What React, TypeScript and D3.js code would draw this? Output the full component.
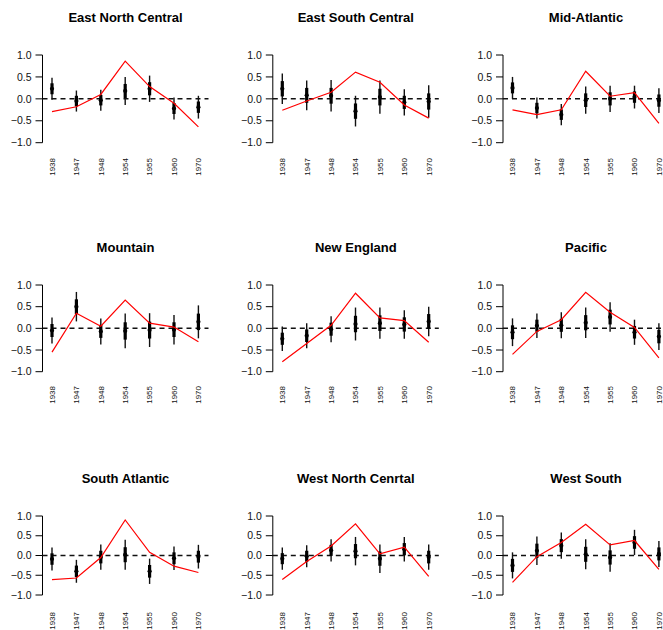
import React from "react";
import * as d3 from "d3";

const years = ["1938", "1947", "1948", "1954", "1955", "1960", "1970"];
const regions = [
  "East North Central", "East South Central", "Mid-Atlantic",
  "Mountain", "New England", "Pacific",
  "South Atlantic", "West North Cenrtal", "West South",
];
const yTicks = [1.0, 0.5, 0.0, -0.5, -1.0];

// point estimates (black dots)
const estimates = [
  [0.23, -0.05, -0.03, 0.18, 0.23, -0.22, -0.19],
  [0.23, 0.08, 0.07, -0.28, 0.04, -0.08, -0.06],
  [0.25, -0.21, -0.36, -0.03, 0.0, 0.04, -0.04],
  [-0.05, 0.5, -0.07, -0.06, -0.04, -0.03, 0.15],
  [-0.24, -0.17, -0.02, 0.1, 0.12, 0.09, 0.16],
  [-0.09, 0.06, 0.07, 0.13, 0.26, -0.09, -0.19],
  [-0.09, -0.4, -0.04, 0.02, -0.4, -0.07, -0.03],
  [-0.08, -0.02, 0.13, 0.11, -0.08, 0.16, -0.04],
  [-0.25, 0.12, 0.25, 0.03, -0.05, 0.33, 0.04],
];
// standard errors (thick bar = ±1 se, thin bar = ±2 se)
const stdErrors = [
  [0.125, 0.12, 0.12, 0.16, 0.15, 0.125, 0.13],
  [0.175, 0.17, 0.18, 0.175, 0.19, 0.15, 0.185],
  [0.125, 0.12, 0.12, 0.155, 0.15, 0.13, 0.14],
  [0.15, 0.17, 0.15, 0.2, 0.195, 0.17, 0.19],
  [0.14, 0.145, 0.15, 0.19, 0.18, 0.165, 0.17],
  [0.16, 0.14, 0.15, 0.175, 0.17, 0.145, 0.155],
  [0.145, 0.145, 0.16, 0.19, 0.16, 0.15, 0.15],
  [0.14, 0.14, 0.14, 0.18, 0.18, 0.155, 0.16],
  [0.165, 0.18, 0.165, 0.19, 0.18, 0.16, 0.165],
];
// red line values
const redLine = [
  [-0.29, -0.18, 0.1, 0.86, 0.28, -0.1, -0.64],
  [-0.26, -0.05, 0.15, 0.61, 0.38, -0.14, -0.44],
  [-0.25, -0.36, -0.25, 0.63, 0.06, 0.14, -0.56],
  [-0.55, 0.35, 0.05, 0.65, 0.12, 0.03, -0.31],
  [-0.77, -0.35, 0.07, 0.81, 0.24, 0.18, -0.32],
  [-0.6, -0.07, 0.2, 0.83, 0.37, 0.02, -0.68],
  [-0.61, -0.57, -0.05, 0.9, 0.08, -0.27, -0.43],
  [-0.61, -0.15, 0.24, 0.8, 0.04, 0.21, -0.53],
  [-0.68, -0.03, 0.33, 0.79, 0.27, 0.38, -0.35],
];

const colAxisX = [42.5, 272.8, 503];
const rowGeom = [
  { top: 55, bot: 142.7, title: 22, label: 158 },
  { top: 285, bot: 371.7, title: 252, label: 386 },
  { top: 516, bot: 595, title: 483, label: 612 },
];

const FONT = "'Liberation Sans', Arial, Helvetica, sans-serif";

function Panel({ idx }: { idx: number }) {
  const col = idx % 3;
  const row = Math.floor(idx / 3);
  const ax = colAxisX[col];
  const g = rowGeom[row];
  const x = d3.scalePoint<string>().domain(years).range([ax + 9.5, ax + 9.5 + 6 * 24.4]);
  const y = d3.scaleLinear().domain([-1, 1]).range([g.bot, g.top]);
  const right = ax + 166;
  const est = estimates[idx];
  const se = stdErrors[idx];
  const red = redLine[idx];
  const line = d3.line<number>().x((_, i) => x(years[i]) as number).y((v) => y(v));
  return (
    <g>
      <text x={(ax + right) / 2} y={g.title} textAnchor="middle" fontFamily={FONT} fontWeight="bold" fontSize={13} fill="#000">
        {regions[idx]}
      </text>
      <line x1={ax} x2={ax} y1={y(1)} y2={y(-1)} stroke="#000" strokeWidth={1} />
      {yTicks.map((t) => (
        <g key={t}>
          <line x1={ax - 7} x2={ax} y1={y(t)} y2={y(t)} stroke="#000" strokeWidth={1} />
          <text x={ax - 11} y={y(t)} dy="0.35em" textAnchor="end" fontFamily={FONT} fontSize={10.5} fill="#111">
            {d3.format(".1f")(t).replace("-", "-")}
          </text>
        </g>
      ))}
      <line x1={ax} x2={right} y1={y(0)} y2={y(0)} stroke="#111" strokeWidth={1.5} strokeDasharray="5,4" />
      {years.map((yr, i) => {
        const cx = x(yr) as number;
        return (
          <g key={yr}>
            <line x1={cx} x2={cx} y1={y(est[i] + 2 * se[i])} y2={y(est[i] - 2 * se[i])} stroke="#111" strokeWidth={1.4} />
            <line x1={cx} x2={cx} y1={y(est[i] + se[i])} y2={y(est[i] - se[i])} stroke="#000" strokeWidth={3.2} />
            <circle cx={cx} cy={y(est[i])} r={2.1} fill="#000" />
            <text transform={`translate(${cx},${g.label}) rotate(-90)`} dy="0.35em" textAnchor="end" fontFamily={FONT} fontSize={8} fill="#111">
              {yr}
            </text>
          </g>
        );
      })}
      <path d={line(red) as string} fill="none" stroke="#ff0000" strokeWidth={1.2} />
    </g>
  );
}

export default function App() {
  return (
    <svg width={663} height={630} style={{ position: "absolute", left: 0, top: 0, background: "#fff" }}>
      <rect width={663} height={630} fill="#fff" />
      {regions.map((_, i) => (
        <Panel key={i} idx={i} />
      ))}
    </svg>
  );
}
